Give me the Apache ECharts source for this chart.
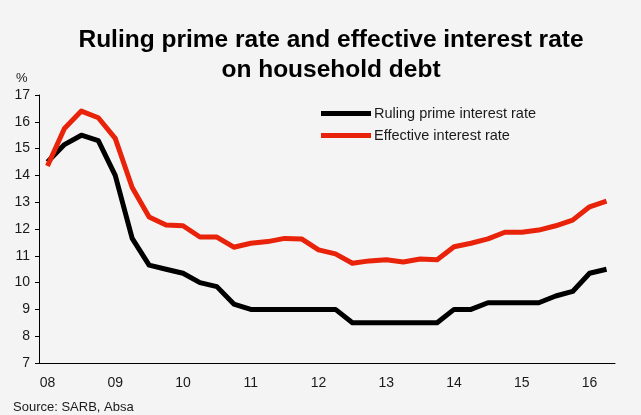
<!DOCTYPE html>
<html>
<head>
<meta charset="utf-8">
<script src="https://cdn.jsdelivr.net/npm/echarts@6/dist/echarts.min.js"></script>
<style>
  html, body { margin: 0; padding: 0; background: #f4f4f4; }
  #chart { width: 641px; height: 415px; }
</style>
</head>
<body>
<div id="chart"></div>
<script>
// quarterly, 2008Q1 - 2016Q2
var years = ['08', '09', '10', '11', '12', '13', '14', '15', '16']
var quarters = []
years.forEach(function (y) {
  for (var q = 1; q <= 4; q++) {
    if (y === '16' && q > 2) break
    quarters.push(y + 'Q' + q)
  }
})

var primeRate = [
  14.5, 15.15, 15.5, 15.3, 14.0, 11.65, 10.65, 10.5, 10.35, 10.0,
  9.85, 9.2, 9.0, 9.0, 9.0, 9.0, 9.0, 9.0, 8.5, 8.5,
  8.5, 8.5, 8.5, 8.5, 9.0, 9.0, 9.25, 9.25, 9.25, 9.25,
  9.5, 9.67, 10.35, 10.5
]
var effectiveRate = [
  14.35, 15.75, 16.4, 16.15, 15.38, 13.55, 12.45, 12.15, 12.12, 11.7,
  11.7, 11.32, 11.47, 11.53, 11.65, 11.63, 11.22, 11.07, 10.72, 10.81,
  10.85, 10.77, 10.88, 10.85, 11.34, 11.47, 11.63, 11.88, 11.88, 11.96,
  12.12, 12.33, 12.83, 13.04
]

var chart = echarts.init(document.getElementById('chart'))
var txt = '#1a1a1a'
var font = 'Liberation Sans, Arial, sans-serif'
chart.setOption({
  backgroundColor: '#f4f4f4',
  animation: false,
  textStyle: { fontFamily: font },
  title: [
    {
      text: 'Ruling prime rate and effective interest rate\non household debt',
      left: 326,
      top: 20,
      textAlign: 'center',
      textStyle: { fontSize: 24.5, fontWeight: 'bold', color: '#000', lineHeight: 30, fontFamily: font }
    },
    {
      text: 'Source: SARB, Absa',
      left: 8,
      top: 396,
      textStyle: { fontSize: 13, fontWeight: 'normal', color: txt, fontFamily: font }
    },
    {
      text: '%',
      left: 11,
      top: 67,
      textStyle: { fontSize: 13, fontWeight: 'normal', color: txt, fontFamily: font }
    }
  ],
  legend: {
    orient: 'vertical',
    left: 316,
    top: 101,
    itemWidth: 50,
    itemHeight: 5,
    itemGap: 7,
    icon: 'rect',
    textStyle: { fontSize: 14.5, color: txt, padding: [0, 0, 0, -2] },
    data: ['Ruling prime interest rate', 'Effective interest rate']
  },
  grid: { left: 39, right: 26, top: 95, bottom: 52 },
  xAxis: {
    type: 'category',
    data: quarters,
    boundaryGap: true,
    axisLine: { lineStyle: { color: '#000', width: 1 } },
    axisTick: { interval: 3, length: 4, lineStyle: { color: '#000' } },
    axisLabel: {
      interval: 3,
      color: txt,
      fontSize: 14,
      margin: 13,
      formatter: function (v) { return v.slice(0, 2) }
    },
    splitLine: { show: false }
  },
  yAxis: {
    type: 'value',
    min: 7,
    max: 17,
    interval: 1,
    axisLine: { show: true, lineStyle: { color: '#000', width: 1 } },
    axisTick: { show: true, length: 4, inside: false, lineStyle: { color: '#000' } },
    axisLabel: { color: txt, fontSize: 14, margin: 9 },
    splitLine: { show: false }
  },
  series: [
    {
      name: 'Ruling prime interest rate',
      type: 'line',
      data: primeRate,
      symbol: 'none',
      color: '#000000',
      lineStyle: { width: 5, color: '#000000', join: 'round' }
    },
    {
      name: 'Effective interest rate',
      type: 'line',
      data: effectiveRate,
      symbol: 'none',
      color: '#e8230a',
      lineStyle: { width: 5, color: '#e8230a', join: 'round' }
    }
  ]
})
</script>
</body>
</html>
